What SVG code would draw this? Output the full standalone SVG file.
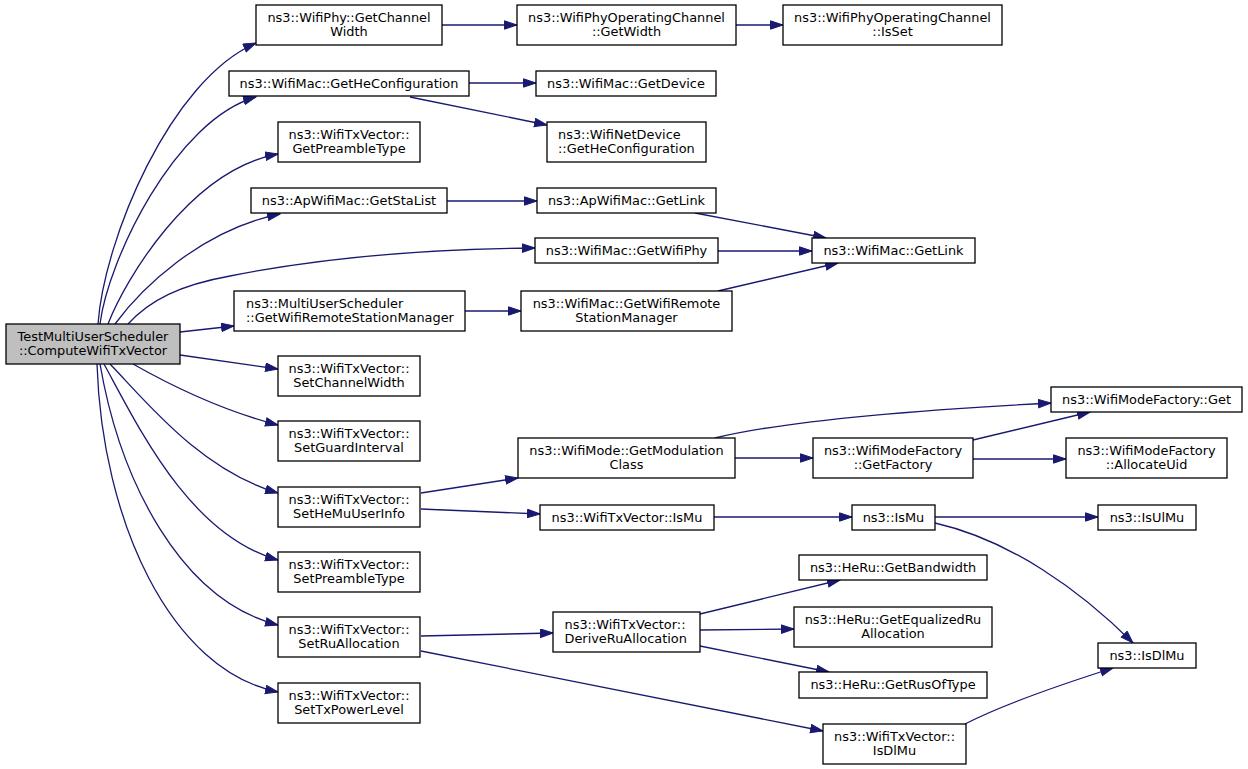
<svg xmlns="http://www.w3.org/2000/svg" width="1248" height="769" viewBox="0 0 1248 769">
<style>
.n rect{fill:#ffffff;stroke:#000000;stroke-width:1.3}
.root rect{fill:#bfbfbf}
.n text{font-family:"DejaVu Sans","Liberation Sans",sans-serif;font-size:12.9px;fill:#000000;text-anchor:middle}
.n text.l{text-anchor:start}
.e path{fill:none;stroke:#191970;stroke-width:1.3;marker-end:url(#arr)}
</style>
<defs>
<marker id="arr" markerUnits="userSpaceOnUse" markerWidth="14" markerHeight="10" refX="13" refY="4.7" orient="auto" viewBox="0 0 14 10">
<path d="M0.5,0.5 L13,4.7 L0.5,8.9 z" fill="#191970" stroke="#191970" stroke-width="1"/>
</marker>
</defs>
<rect x="0" y="0" width="1248" height="769" fill="#ffffff"/>
<g class="e" id="edges">
<path d="M98,324 C104,240 170,80 256,43"/>
<path d="M100,324 C108,260 175,120 256,97"/>
<path d="M108,324 C125,280 190,170 278,154"/>
<path d="M115,324 C140,290 200,230 280,214"/>
<path d="M128,324 C150,300 180,285 230,276 C320,258 420,249 535,248"/>
<path d="M180,332 L234,326"/>
<path d="M180,355 L278,369"/>
<path d="M133,364 C170,385 220,410 278,425"/>
<path d="M110,364 C145,400 200,470 278,493"/>
<path d="M104,364 C140,430 190,535 278,560"/>
<path d="M100,364 C120,480 180,600 278,625"/>
<path d="M97,364 C102,520 170,670 278,692"/>
<path d="M442,25 L517,25"/>
<path d="M736,25 L783,25"/>
<path d="M469,83 L536,83"/>
<path d="M410,97 L547,125"/>
<path d="M447,201 L537,201"/>
<path d="M695,213 L826,238"/>
<path d="M718,251 L812,251"/>
<path d="M718,291 L838,263"/>
<path d="M465,311 L521,311"/>
<path d="M421,493 L518,478"/>
<path d="M421,509 L540,514"/>
<path d="M715,438 C760,427 860,413 1051,403"/>
<path d="M735,458 L813,458"/>
<path d="M973,440 L1090,412"/>
<path d="M973,459 L1066,459"/>
<path d="M714,517 L852,517"/>
<path d="M935,517 L1098,517"/>
<path d="M935,523 C1010,540 1080,590 1133,643"/>
<path d="M421,636 L553,633"/>
<path d="M421,651 L823,731"/>
<path d="M700,614 L840,580"/>
<path d="M700,630 L794,629"/>
<path d="M700,646 L829,672"/>
<path d="M965,724 C1000,706 1050,688 1113,668"/>
</g>
<g class="n root" id="n0"><rect x="6" y="324" width="174" height="40"/><text x="93" y="341">TestMultiUserScheduler</text><text x="93" y="355">::ComputeWifiTxVector</text></g>
<g class="n" id="n1"><rect x="256" y="5" width="186" height="40"/><text x="349" y="22">ns3::WifiPhy::GetChannel</text><text x="349" y="36">Width</text></g>
<g class="n" id="n2"><rect x="229" y="71" width="240" height="25"/><text x="349" y="88">ns3::WifiMac::GetHeConfiguration</text></g>
<g class="n" id="n3"><rect x="278" y="122" width="142" height="40"/><text x="349" y="139">ns3::WifiTxVector::</text><text x="349" y="153">GetPreambleType</text></g>
<g class="n" id="n4"><rect x="251" y="188" width="196" height="25"/><text x="349" y="205">ns3::ApWifiMac::GetStaList</text></g>
<g class="n" id="n5"><rect x="535" y="238" width="183" height="25"/><text x="626.5" y="255">ns3::WifiMac::GetWifiPhy</text></g>
<g class="n" id="n6"><rect x="234" y="291" width="231" height="40"/><text class="l" x="246" y="308">ns3::MultiUserScheduler</text><text class="l" x="246" y="322">::GetWifiRemoteStationManager</text></g>
<g class="n" id="n7"><rect x="278" y="356" width="142" height="40"/><text x="349" y="373">ns3::WifiTxVector::</text><text x="349" y="387">SetChannelWidth</text></g>
<g class="n" id="n8"><rect x="278" y="421" width="142" height="40"/><text x="349" y="438">ns3::WifiTxVector::</text><text x="349" y="452">SetGuardInterval</text></g>
<g class="n" id="n9"><rect x="278" y="487" width="142" height="40"/><text x="349" y="504">ns3::WifiTxVector::</text><text x="349" y="518">SetHeMuUserInfo</text></g>
<g class="n" id="n10"><rect x="278" y="552" width="142" height="40"/><text x="349" y="569">ns3::WifiTxVector::</text><text x="349" y="583">SetPreambleType</text></g>
<g class="n" id="n11"><rect x="278" y="617" width="142" height="40"/><text x="349" y="634">ns3::WifiTxVector::</text><text x="349" y="648">SetRuAllocation</text></g>
<g class="n" id="n12"><rect x="278" y="683" width="142" height="40"/><text x="349" y="700">ns3::WifiTxVector::</text><text x="349" y="714">SetTxPowerLevel</text></g>
<g class="n" id="n13"><rect x="517" y="5" width="219" height="40"/><text x="626.5" y="22">ns3::WifiPhyOperatingChannel</text><text x="626.5" y="36">::GetWidth</text></g>
<g class="n" id="n14"><rect x="783" y="5" width="219" height="40"/><text x="892.5" y="22">ns3::WifiPhyOperatingChannel</text><text x="892.5" y="36">::IsSet</text></g>
<g class="n" id="n15"><rect x="536" y="71" width="180" height="25"/><text x="626" y="88">ns3::WifiMac::GetDevice</text></g>
<g class="n" id="n16"><rect x="547" y="122" width="159" height="40"/><text class="l" x="558" y="139">ns3::WifiNetDevice</text><text class="l" x="558" y="153">::GetHeConfiguration</text></g>
<g class="n" id="n17"><rect x="537" y="188" width="179" height="25"/><text x="626.5" y="205">ns3::ApWifiMac::GetLink</text></g>
<g class="n" id="n18"><rect x="812" y="238" width="163" height="25"/><text x="893.5" y="255">ns3::WifiMac::GetLink</text></g>
<g class="n" id="n19"><rect x="521" y="291" width="211" height="40"/><text x="626.5" y="308">ns3::WifiMac::GetWifiRemote</text><text x="626.5" y="322">StationManager</text></g>
<g class="n" id="n20"><rect x="1051" y="387" width="191" height="25"/><text x="1146.5" y="404">ns3::WifiModeFactory::Get</text></g>
<g class="n" id="n21"><rect x="518" y="438" width="217" height="40"/><text x="626.5" y="455">ns3::WifiMode::GetModulation</text><text x="626.5" y="469">Class</text></g>
<g class="n" id="n22"><rect x="813" y="438" width="160" height="40"/><text x="893" y="455">ns3::WifiModeFactory</text><text x="893" y="469">::GetFactory</text></g>
<g class="n" id="n23"><rect x="1066" y="438" width="161" height="40"/><text x="1146.5" y="455">ns3::WifiModeFactory</text><text x="1146.5" y="469">::AllocateUid</text></g>
<g class="n" id="n24"><rect x="540" y="505" width="174" height="25"/><text x="627" y="522">ns3::WifiTxVector::IsMu</text></g>
<g class="n" id="n25"><rect x="852" y="505" width="83" height="25"/><text x="893.5" y="522">ns3::IsMu</text></g>
<g class="n" id="n26"><rect x="1098" y="505" width="98" height="25"/><text x="1147" y="522">ns3::IsUlMu</text></g>
<g class="n" id="n27"><rect x="799" y="555" width="188" height="25"/><text x="893" y="572">ns3::HeRu::GetBandwidth</text></g>
<g class="n" id="n28"><rect x="794" y="607" width="198" height="40"/><text x="893" y="624">ns3::HeRu::GetEqualizedRu</text><text x="893" y="638">Allocation</text></g>
<g class="n" id="n29"><rect x="553" y="612" width="147" height="40"/><text class="l" x="564.5" y="629">ns3::WifiTxVector::</text><text class="l" x="564.5" y="643">DeriveRuAllocation</text></g>
<g class="n" id="n30"><rect x="799" y="672" width="188" height="26"/><text x="893" y="689">ns3::HeRu::GetRusOfType</text></g>
<g class="n" id="n31"><rect x="1098" y="643" width="98" height="25"/><text x="1147" y="660">ns3::IsDlMu</text></g>
<g class="n" id="n32"><rect x="823" y="724" width="143" height="40"/><text x="894.5" y="741">ns3::WifiTxVector::</text><text x="894.5" y="755">IsDlMu</text></g>
</svg>
